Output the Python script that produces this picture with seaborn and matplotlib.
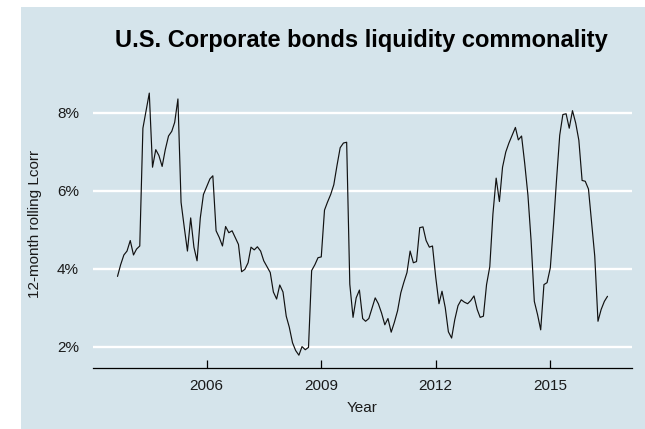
import pandas as pd
import matplotlib
matplotlib.use('Agg')
import matplotlib.pyplot as plt
import matplotlib.ticker as mticker
from matplotlib.patches import Rectangle
import seaborn as sns

# data: 12-month rolling Lcorr (%), monthly
start_month = '2003-09-01'
lcorr_2003 = [3.80, 4.10, 4.35, 4.45]
lcorr_2004 = [4.72, 4.35, 4.50, 4.58, 7.60, 8.05, 8.50, 6.60, 7.05, 6.90, 6.62, 7.05]
lcorr_2005 = [7.40, 7.52, 7.75, 8.35, 5.70, 5.05, 4.45, 5.30, 4.55, 4.20, 5.30, 5.90]
lcorr_2006 = [6.10, 6.30, 6.38, 4.97, 4.80, 4.58, 5.08, 4.92, 4.97, 4.80, 4.62, 3.92]
lcorr_2007 = [3.98, 4.15, 4.55, 4.48, 4.56, 4.45, 4.20, 4.05, 3.90, 3.40, 3.22, 3.58]
lcorr_2008 = [3.40, 2.78, 2.50, 2.10, 1.90, 1.78, 2.00, 1.92, 1.98, 3.95, 4.10, 4.28]
lcorr_2009 = [4.30, 5.50, 5.70, 5.90, 6.15, 6.65, 7.10, 7.22, 7.24, 3.60, 2.75, 3.25]
lcorr_2010 = [3.45, 2.72, 2.65, 2.72, 2.98, 3.25, 3.10, 2.86, 2.56, 2.72, 2.37, 2.62]
lcorr_2011 = [2.92, 3.38, 3.64, 3.90, 4.45, 4.15, 4.18, 5.05, 5.07, 4.72, 4.55, 4.58]
lcorr_2012 = [3.78, 3.10, 3.42, 3.00, 2.38, 2.22, 2.69, 3.05, 3.20, 3.14, 3.10, 3.18]
lcorr_2013 = [3.30, 2.95, 2.75, 2.78, 3.59, 4.05, 5.40, 6.32, 5.72, 6.60, 6.99, 7.22]
lcorr_2014 = [7.42, 7.62, 7.30, 7.40, 6.70, 5.88, 4.72, 3.16, 2.82, 2.43, 3.59, 3.64]
lcorr_2015 = [4.02, 5.14, 6.26, 7.42, 7.95, 7.97, 7.60, 8.05, 7.73, 7.29, 6.26, 6.24]
lcorr_2016 = [6.04, 5.14, 4.32, 2.65, 2.95, 3.16, 3.29]

tick_years = [2006, 2009, 2012, 2015]
y_ticks = [2, 4, 6, 8]

lcorr = (lcorr_2003 + lcorr_2004 + lcorr_2005 + lcorr_2006 + lcorr_2007 + lcorr_2008
         + lcorr_2009 + lcorr_2010 + lcorr_2011 + lcorr_2012 + lcorr_2013 + lcorr_2014
         + lcorr_2015 + lcorr_2016)
df = pd.DataFrame({'date': pd.date_range(start_month, periods=len(lcorr), freq='MS'),
                   'lcorr': lcorr})

bg = '#d5e4eb'
sns.set_theme(style='white')
plt.rcParams['font.family'] = ['Liberation Sans', 'DejaVu Sans']

W, H = 645, 429
fig = plt.figure(figsize=(W / 100, H / 100), dpi=100, facecolor='white')
# economist-like background (screenshot has a thin white strip left/top)
fig.add_artist(Rectangle((21 / W, 0), 1, (H - 7) / H, transform=fig.transFigure,
                         facecolor=bg, edgecolor='none', zorder=-1))

left, right, top, bottom = 93, 632, 80, 368.3
ax = fig.add_axes([left / W, (H - bottom) / H, (right - left) / W, (bottom - top) / H])
ax.set_facecolor(bg)

sns.lineplot(data=df, x='date', y='lcorr', ax=ax, color='#111111', linewidth=0.85)

ax.set_yticks(y_ticks)
ax.yaxis.set_major_formatter(mticker.FuncFormatter(lambda v, _: f'{v:.0f}%'))
ax.set_xticks(pd.to_datetime([f'{y}-01-01' for y in tick_years]))
ax.set_xticklabels([str(y) for y in tick_years])

ax.grid(axis='y', color='white', linewidth=1.7)
ax.grid(axis='x', visible=False)
ax.set_axisbelow(True)
for s in ['left', 'right', 'top']:
    ax.spines[s].set_visible(False)
ax.spines['bottom'].set_color('black')
ax.spines['bottom'].set_linewidth(0.9)

ax.tick_params(axis='x', direction='in', length=6, width=0.9, color='black',
               labelsize=11, labelcolor='#1a1a1a', pad=8, bottom=True)
ax.tick_params(axis='y', length=0, labelsize=11, labelcolor='#1a1a1a', pad=10)

ax.set_xlabel('Year', fontsize=11, color='#1a1a1a', va='center')
ax.xaxis.set_label_coords(0.5, (bottom - 408) / (bottom - top))
ax.set_ylabel('12-month rolling Lcorr', fontsize=11, color='#1a1a1a', va='center')
ax.yaxis.set_label_coords((35 - left) / (right - left), 0.5)

fig.text(361 / W, 1 - 40 / H, 'U.S. Corporate bonds liquidity commonality',
         ha='center', va='center', fontsize=17, fontweight='bold', color='black')

fig.savefig('out.png', dpi=100, facecolor='white')
